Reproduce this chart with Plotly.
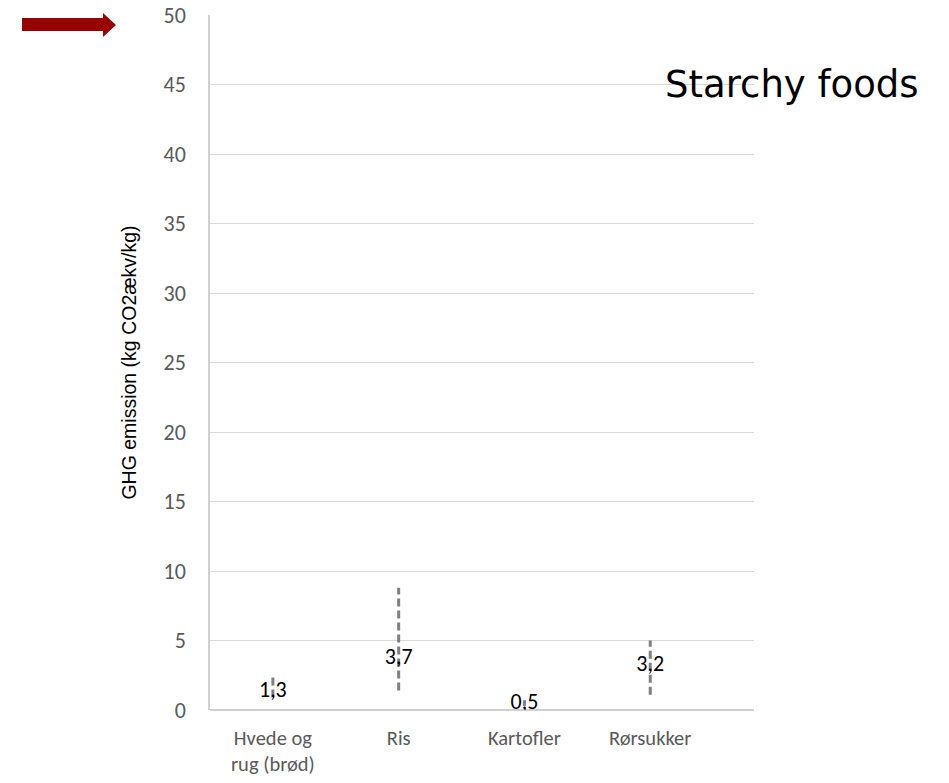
import plotly.graph_objects as go

# Emission estimates per food (kg CO2-eq per kg)
categories = ["Hvede og<br>rug (brød)", "Ris", "Kartofler", "Rørsukker"]
values = [1.3, 3.7, 0.5, 3.2]
range_low = [0.9, 1.4, 0.3, 1.1]
range_high = [2.4, 8.8, 0.7, 5.0]
y_ticks = [0, 5, 10, 15, 20, 25, 30, 35, 40, 45, 50]

W, H = 949, 783
L, R, T, B = 210, 195, 15, 73

fig = go.Figure()

# dashed min-max spread for each food
for i, (lo, hi) in enumerate(zip(range_low, range_high)):
    fig.add_trace(go.Scatter(
        x=[i, i], y=[lo, hi], mode="lines",
        line=dict(color="#7f7f7f", width=3, dash="8px,4px"),
        hoverinfo="skip", showlegend=False,
    ))

# value labels with decimal comma
fig.add_trace(go.Scatter(
    x=list(range(len(categories))), y=values, mode="text",
    text=[f"{v:.1f}".replace(".", ",") for v in values],
    textposition="middle center",
    textfont=dict(family="Calibri, Carlito, Lato, sans-serif", size=22, color="#000000"),
    showlegend=False,
))


def px_to_paper(px, py):
    return (px - L) / (W - L - R), (H - B - py) / (H - T - B)


# red arrow at top left
pts = [(22, 18), (103, 18), (103, 13), (116, 25), (103, 37), (103, 31), (22, 31)]
path = "M " + " L ".join(f"{x:.4f},{y:.4f}" for x, y in (px_to_paper(*p) for p in pts)) + " Z"
fig.add_shape(type="path", path=path, xref="paper", yref="paper",
              fillcolor="#990000", line=dict(width=0))

tx, ty = px_to_paper(663, 84)
fig.add_annotation(text="Starchy foods", xref="paper", yref="paper", x=tx, y=ty,
                   xanchor="left", yanchor="middle", showarrow=False,
                   font=dict(family="DejaVu Sans, Verdana, sans-serif", size=37, color="#000000"))

tick_font = dict(family="Calibri, Carlito, Lato, sans-serif", size=22, color="#595959")
cat_font = dict(family="Calibri, Carlito, Lato, sans-serif", size=20.5, color="#595959")

fig.update_layout(
    width=W, height=H,
    margin=dict(l=L, r=R, t=T, b=B),
    paper_bgcolor="white", plot_bgcolor="white",
    xaxis=dict(
        tickmode="array", tickvals=list(range(len(categories))), ticktext=categories,
        range=[-0.5, 3.825], showgrid=False, zeroline=False, automargin=False,
        showline=False, tickfont=cat_font, ticks="outside", ticklen=0,
        ticklabelstandoff=9,
    ),
    yaxis=dict(
        range=[0, 50], tickvals=y_ticks, showgrid=True, gridcolor="#d9d9d9", gridwidth=1,
        zeroline=True, zerolinecolor="#d0d0d0", zerolinewidth=1.5, automargin=False,
        showline=True, linecolor="#d0d0d0", linewidth=1.5,
        tickfont=tick_font, ticks="outside", ticklen=0, ticklabelstandoff=18,
        title=dict(text="GHG emission (kg CO2ækv/kg)", standoff=22,
                   font=dict(family="Arial, Liberation Sans, sans-serif", size=19.5, color="#000000")),
    ),
)

fig.write_html("out.html")
